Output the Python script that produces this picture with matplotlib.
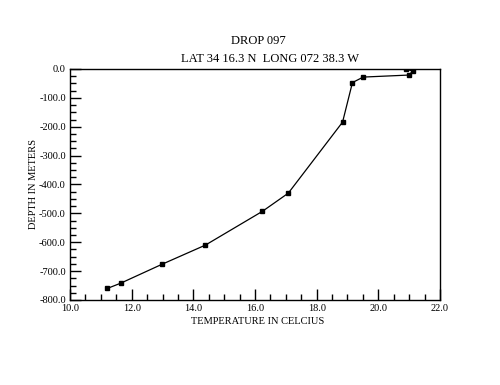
import matplotlib
matplotlib.use("Agg")
import matplotlib.pyplot as plt
from matplotlib.ticker import MultipleLocator, FormatStrFormatter

# temperature (C) and depth (m)
temperature = [20.90, 21.12, 20.99, 19.51, 19.16, 18.84, 17.08, 16.24, 14.39, 12.99, 11.64, 11.21]
depth = [-1.0, -7.0, -21.0, -28.0, -47.0, -184.0, -430.0, -493.0, -610.0, -676.0, -742.0, -760.0]

plt.rcParams['font.family'] = ['Liberation Serif', 'DejaVu Serif']

fig = plt.figure(figsize=(5.0, 3.85), dpi=100)
ax = fig.add_axes([0.14, 0.2208, 0.74, 0.6])

ax.plot(temperature, depth, color='black', linewidth=0.9, marker='s', markersize=2.2)

ax.set_xlim(10.0, 22.0)
ax.set_ylim(-800.0, 0.0)
ax.xaxis.set_major_locator(MultipleLocator(2.0))
ax.xaxis.set_minor_locator(MultipleLocator(0.5))
ax.yaxis.set_major_locator(MultipleLocator(100.0))
ax.yaxis.set_minor_locator(MultipleLocator(25.0))
ax.xaxis.set_major_formatter(FormatStrFormatter('%.1f'))
ax.yaxis.set_major_formatter(FormatStrFormatter('%.1f'))
ax.tick_params(which='both', direction='in', top=False, right=False, labelsize=7.5, width=1)
ax.tick_params(which='major', length=8, pad=3)
ax.tick_params(which='minor', length=4)
for s in ax.spines.values():
    s.set_linewidth(1)

ax.set_xlabel('TEMPERATURE IN CELCIUS', fontsize=7.5)
ax.xaxis.set_label_coords(0.506, -0.075)
ax.set_ylabel('DEPTH IN METERS', fontsize=7.5)
ax.yaxis.set_label_coords(-0.086, 0.5)

fig.text(0.517, 0.893, 'DROP 097', ha='center', va='center', fontsize=9)
fig.text(0.540, 0.847, 'LAT 34 16.3 N  LONG 072 38.3 W', ha='center', va='center', fontsize=9)

fig.savefig('out.png', dpi=100)
